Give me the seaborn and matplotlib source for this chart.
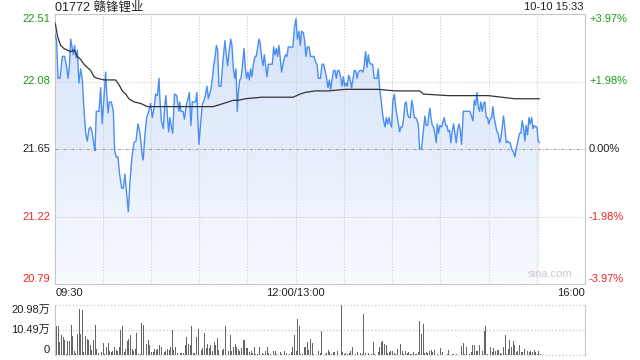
import numpy as np
import matplotlib
matplotlib.use("Agg")
import matplotlib.pyplot as plt
import seaborn as sns
from matplotlib.colors import LinearSegmentedColormap

# ---------------- data ----------------
TITLE = "01772 赣锋锂业"
STAMP = "10-10 15:33"
PREV_CLOSE = 21.65
PRICE_TICKS = [22.51, 22.08, 21.65, 21.22, 20.79]
PCT_LABELS = ["+3.97%", "+1.98%", "0.00%", "-1.98%", "-3.97%"]
TIME_LABELS = ["09:30", "12:00/13:00", "16:00"]
SESSION_MINUTES = 330
VOL_TICKS = [20.98, 10.49, 0]
VOL_LABELS = ["20.98万", "10.49万", "0"]

# minutes since 09:30 (lunch break removed) and last price
SEG1_MIN = [0, 1.3, 2.2, 3.4, 4.9, 6.3, 7.6, 8.4, 9.2, 10.1, 10.9, 11.7, 12.5, 13.4, 14.2, 15.2, 16.3, 17.3, 18.4, 19.4,
            20.4, 21.5, 22.5, 23.5, 24.6, 25.2, 26.0, 27.7, 28.7, 29.7, 30.8, 31.8, 32.4, 33.3, 34.1, 35.3, 36.6, 37.4, 38.3, 39.5,
            40.5, 41.8, 42.8, 43.8, 44.9, 45.9, 47.0, 48.2, 49.4, 50.7, 51.9, 53.2, 54.4, 55.2, 56.1, 57.3, 58.6, 59.8, 60.8, 61.9,
            62.9, 64.0, 65.0, 65.6, 66.5, 67.7, 68.5, 69.3, 70.2, 71.0, 71.8, 72.7, 73.5, 74.7, 76.0, 77.4]
SEG1_PRICE = [22.39, 22.34, 22.10, 22.10, 22.24, 22.24, 22.17, 22.10, 22.17, 22.35, 22.30, 22.25, 22.31, 22.23, 22.28, 22.07, 22.16, 22.09, 21.89, 21.75,
              21.70, 21.78, 21.79, 21.75, 21.67, 21.64, 21.89, 21.89, 22.04, 21.81, 21.98, 22.14, 22.02, 21.88, 21.95, 21.95, 21.89, 21.64, 21.60, 21.60,
              21.49, 21.40, 21.40, 21.49, 21.36, 21.25, 21.45, 21.60, 21.69, 21.70, 21.81, 21.75, 21.62, 21.58, 21.72, 21.85, 21.89, 21.94, 21.85, 21.91,
              22.00, 21.99, 22.10, 21.96, 21.83, 21.78, 21.92, 21.99, 21.87, 21.76, 21.85, 21.79, 21.75, 22.00, 21.99, 21.89]
SEG2_MIN = [77.9, 78.7, 80.0, 80.8, 82.0, 82.8, 83.9, 84.9, 85.7, 87.0, 87.8, 88.6, 89.3, 89.9, 90.7, 92.0, 92.8, 93.8, 94.9, 95.7,
            96.5, 97.3, 98.2, 99.0, 99.8, 100.7, 101.5, 102.3, 103.6, 104.6, 105.4, 106.0, 106.9, 107.7, 108.7, 109.6, 110.4, 111.2, 112.1, 112.9,
            113.7, 114.3, 115.2, 116.0, 117.0, 117.9, 118.7, 119.5, 120.3, 121.2, 122.0, 122.8, 123.7, 124.7, 125.5, 126.4, 127.2, 128.0, 128.9, 129.7,
            130.5, 131.3, 132.2, 133.0, 134.2, 135.5, 136.3, 137.1, 138.0, 138.8, 139.6, 140.5, 141.3, 142.1, 143.0, 143.8, 144.6, 145.4, 147.1, 148.3,
            149.2]
SEG2_PRICE = [21.95, 21.89, 21.89, 21.84, 21.93, 21.96, 22.01, 21.80, 21.95, 21.95, 21.95, 22.01, 21.81, 21.68, 21.79, 21.94, 21.95, 21.99, 22.05, 21.97,
              22.00, 22.03, 22.10, 22.18, 22.23, 22.31, 22.28, 22.05, 22.05, 22.19, 22.28, 22.34, 22.25, 22.18, 22.28, 22.35, 22.31, 22.17, 22.10, 22.16,
              21.89, 22.00, 22.09, 22.10, 22.19, 22.29, 22.17, 22.10, 22.14, 22.09, 22.16, 22.11, 22.19, 22.24, 22.24, 22.30, 22.35, 22.32, 22.23, 22.18,
              22.25, 22.18, 22.11, 22.19, 22.19, 22.19, 22.30, 22.25, 22.29, 22.24, 22.31, 22.22, 22.14, 22.19, 22.23, 22.25, 22.24, 22.30, 22.30, 22.30,
              22.42]
SEG3_MIN = [150.2, 151.1, 152.1, 152.9, 153.7, 154.8, 155.6, 156.4, 157.3, 158.3, 159.3, 160.4, 161.4, 162.5, 163.3, 164.1, 165.4, 166.4, 167.4, 168.5,
            169.3, 170.1, 171.0, 171.8, 172.8, 173.6, 174.5, 175.3, 176.1, 177.0, 178.0, 178.8, 179.7, 180.5, 181.3, 182.1, 183.0, 183.8, 184.8, 185.7,
            186.5, 187.3, 188.2, 189.0, 190.0, 191.1, 191.9, 192.5, 193.5, 194.4, 195.2, 196.0, 196.9, 197.9, 198.9, 199.8, 200.6, 201.4, 202.3, 203.1,
            203.9, 204.7, 205.6, 206.4, 207.2, 208.1, 208.9, 209.7, 210.5, 211.4, 212.2, 213.0, 213.9, 214.7, 215.5, 216.4, 217.2, 218.0, 218.8, 219.7,
            220.5, 221.3, 222.2, 223.0, 223.8, 224.6]
SEG3_PRICE = [22.48, 22.35, 22.40, 22.31, 22.40, 22.39, 22.34, 22.24, 22.30, 22.30, 22.24, 22.24, 22.24, 22.20, 22.19, 22.10, 22.10, 22.19, 22.19, 22.14,
              22.10, 22.04, 22.09, 22.03, 22.10, 22.15, 22.15, 22.10, 22.15, 22.15, 22.11, 22.05, 22.11, 22.05, 22.07, 22.05, 22.12, 22.10, 22.04, 22.10,
              22.15, 22.15, 22.10, 22.14, 22.15, 22.15, 22.14, 22.17, 22.27, 22.17, 22.25, 22.20, 22.19, 22.19, 22.10, 22.10, 22.10, 22.16, 22.03, 21.97,
              21.89, 21.83, 21.79, 21.85, 21.81, 21.85, 21.81, 21.79, 21.96, 22.00, 21.92, 21.87, 21.81, 21.76, 21.79, 21.79, 21.85, 21.94, 21.95, 21.87,
              21.85, 21.85, 21.96, 21.92, 21.85, 21.85]
SEG4_MIN = [225.2, 226.3, 227.1, 228.3, 229.4, 230.4, 231.2, 232.1, 232.9, 233.5, 234.2, 235.0, 235.8, 236.6, 237.5, 238.1, 238.9, 239.7, 240.8, 241.8,
            242.4, 243.3, 244.1, 244.9, 245.8, 246.6, 247.4, 248.2, 249.1, 249.9, 250.7, 251.6, 252.4, 253.2, 254.3, 256.3, 258.4, 259.4, 260.3, 261.1,
            261.9, 262.8, 263.6, 264.4, 265.2, 266.1, 266.9, 267.7, 268.6, 269.4, 270.2, 271.0, 271.9, 272.7, 273.5, 274.4, 275.2, 276.0, 276.9, 277.7,
            278.5, 279.3, 280.2, 281.0, 281.8, 282.7, 283.5, 284.3, 285.6, 286.4, 287.2, 288.5, 289.3, 290.1, 290.9, 291.8, 292.6, 293.4, 294.3, 295.1,
            295.9, 296.8, 297.6, 298.4, 299.2, 300.1, 300.9, 301.7]
SEG4_PRICE = [21.84, 21.81, 21.65, 21.65, 21.76, 21.86, 21.80, 21.80, 21.87, 21.91, 21.85, 21.80, 21.79, 21.75, 21.69, 21.81, 21.75, 21.80, 21.79, 21.83,
              21.85, 21.80, 21.80, 21.76, 21.77, 21.69, 21.76, 21.81, 21.75, 21.69, 21.77, 21.81, 21.77, 21.68, 21.89, 21.89, 21.89, 21.86, 21.83, 21.96,
              21.93, 22.01, 21.92, 21.89, 21.95, 21.89, 21.94, 21.95, 21.85, 21.85, 21.81, 21.84, 21.85, 21.92, 21.85, 21.80, 21.76, 21.75, 21.69, 21.72,
              21.79, 21.86, 21.78, 21.69, 21.70, 21.69, 21.69, 21.65, 21.63, 21.60, 21.65, 21.71, 21.75, 21.75, 21.83, 21.78, 21.70, 21.80, 21.74, 21.85,
              21.81, 21.85, 21.78, 21.80, 21.79, 21.79, 21.70, 21.69]

# average price line
AVG_MIN = [0, 0.7, 1.8, 3.8, 5.9, 8.0, 10.1, 12.1, 14.2, 16.3, 18.3, 20.4, 22.5, 24.6, 26.6, 30.8, 34.9, 38.0, 40.1, 42.2,
           44.3, 46.3, 49.4, 53.6, 55.7, 57.7, 77.4, 95.7, 98.8, 101.9, 105.0, 108.1, 111.2, 114.3, 118.5, 128.9, 148.5, 150.6, 152.7, 155.8,
           162.0, 170.3, 180.7, 201.4, 211.8, 227.3, 229.5, 244.9, 261.5, 269.8, 278.1, 286.4, 301.7]
AVG_PRICE = [22.46, 22.44, 22.37, 22.31, 22.29, 22.28, 22.27, 22.28, 22.24, 22.22, 22.19, 22.17, 22.15, 22.11, 22.10, 22.09, 22.09, 22.09, 22.06, 22.02,
             22.00, 21.97, 21.95, 21.94, 21.93, 21.92, 21.92, 21.92, 21.92, 21.93, 21.94, 21.95, 21.96, 21.96, 21.97, 21.98, 21.98, 21.99, 22.00, 22.01,
             22.02, 22.02, 22.03, 22.03, 22.02, 22.02, 22.00, 21.99, 21.99, 21.99, 21.98, 21.97, 21.97]

# per-minute volume (万股)
VOL_1 = [18.6, 12.1, 12.1, 5.4, 8.2, 7.5, 6.1, 0.4, 5.8, 5.8, 12.5, 7.8, 1.8, 0.7, 8.9, 19.3, 8.9, 18.9, 1.1, 7.8,
         6.8, 6.4, 4.0, 2.1, 6.1, 12.5, 2.6, 0.7, 3.3, 1.4, 5.1, 0.4, 3.3, 5.1, 1.8, 1.1, 1.8, 3.3, 2.1, 1.6,
         3.3, 10.6, 12.1, 1.1, 2.6, 5.8, 6.8, 8.2, 2.6, 1.6, 2.6, 9.2, 0.4, 0.4, 13.5, 12.5, 5.4, 4.7, 6.1, 4.0,
         1.1, 1.1, 2.6, 2.1, 2.6, 4.0, 3.3, 0.1, 1.1, 1.6, 2.6, 2.1, 3.3, 10.6, 2.1, 3.3, 0.7]
VOL_2 = [0.1, 0.9, 0.9, 0.9, 4.4, 7.5, 4.7, 4.0, 12.1, 0.9, 0.9, 7.5, 10.8, 0.1, 2.1, 3.0, 9.2, 2.8, 4.7, 2.8,
         4.3, 1.8, 5.4, 4.4, 7.1, 2.1, 0.1, 2.1, 2.6, 12.1, 6.1, 1.8, 8.6, 1.6, 3.5, 4.7, 3.5, 2.6, 1.6, 2.8,
         6.1, 6.4, 2.8, 2.8, 1.1, 1.6, 0.7, 3.5, 0.4, 0.4, 3.3, 0.1, 0.7, 0.4, 1.6, 3.3, 0.7, 0.4, 0.1, 1.6,
         1.8, 0.4, 0.1, 1.1, 0.4, 0.1, 1.8, 0.9, 0.1, 0.4, 1.1, 3.5, 8.2, 1.8, 15.0, 12.1]
VOL_3 = [0.4, 0.4, 3.3, 3.3, 5.4, 2.1, 6.9, 5.0, 0.4, 0.1, 2.1, 1.6, 0.7, 9.9, 0.1, 0.4, 0.7, 2.1, 1.1, 0.4,
         1.4, 1.1, 0.1, 1.8, 0.1, 20.98, 1.1, 0.4, 0.7, 0.4, 0.7, 1.8, 3.5, 5.4, 0.4, 1.1, 0.1, 0.9, 0.4, 17.2,
         0.7, 0.1, 0.7, 0.1, 0.4, 5.4, 0.4, 0.1, 1.1, 3.5, 5.4, 5.7, 4.7, 4.0, 0.7, 1.1, 1.8, 1.6, 0.9, 0.4,
         2.6, 0.7, 4.7, 1.8, 0.4, 1.6, 0.7, 1.1, 0.4, 0.4, 1.1, 0.4, 0.4, 1.1, 14.2, 8.9, 12.9]
VOL_4 = [0.7, 1.4, 0.9, 1.8, 2.3, 1.1, 2.1, 0.1, 0.4, 0.1, 3.0, 1.1, 0.1, 0.1, 0.4, 2.1, 0.1, 0.4, 0.4, 0.1,
         0.4, 0.1, 0.1, 3.8, 5.2, 0.4, 3.5, 0.1, 0.4, 1.1, 4.0, 4.0, 1.8, 1.8, 4.3, 8.2, 1.8, 10.1, 12.1, 0.4,
         0.1, 3.5, 1.1, 3.0, 1.8, 2.1, 2.1, 0.7, 0.4, 3.5, 8.6, 0.4, 2.6, 6.1, 3.3, 5.8, 4.0, 1.1, 1.8, 4.0,
         1.1, 1.1, 2.6, 1.4, 1.8, 1.1, 1.8, 1.1, 2.3, 1.1, 0.4, 1.8, 0.4]

price_min = SEG1_MIN + SEG2_MIN + SEG3_MIN + SEG4_MIN
price = SEG1_PRICE + SEG2_PRICE + SEG3_PRICE + SEG4_PRICE
volume = VOL_1 + VOL_2 + VOL_3 + VOL_4
vol_min = np.arange(len(volume))

# ---------------- style ----------------
sns.set_style("white")
plt.rcParams["font.family"] = ["Liberation Sans", "Noto Sans CJK SC", "DejaVu Sans"]

GREEN = "#1a9e1a"
RED = "#f02525"
GRID = "#cfcfcf"
SPINE = "#c8c8c8"
FS = 8

W, H = 640, 360
fig = plt.figure(figsize=(6.4, 3.6), dpi=100)
L, R = 54.5, 585
ax = fig.add_axes([L / W, 1 - 284 / H, (R - L) / W, 270 / H])
axv = fig.add_axes([L / W, 1 - 355 / H, (R - L) / W, 50 / H])

ymin, ymax = PRICE_TICKS[-1], PRICE_TICKS[0]

# gradient area under the price line
cmap = LinearSegmentedColormap.from_list("area", ["#f8faff", "#d4e2f9"])
grad = np.linspace(1, 0, 256).reshape(-1, 1)
im = ax.imshow(grad, extent=[0, SESSION_MINUTES, ymin, ymax], aspect="auto",
               cmap=cmap, vmin=0, vmax=1, origin="upper", zorder=1)
poly = ax.fill_between(price_min, price, ymin, color="none", lw=0)
im.set_clip_path(poly.get_paths()[0], transform=ax.transData)

# grid
for m in range(30, SESSION_MINUTES, 30):
    ax.axvline(m, color=GRID, lw=0.8, ls=(0, (1, 1.5)), zorder=2)
    axv.axvline(m, color="none")
for yv in PRICE_TICKS[1:-1]:
    if yv == PREV_CLOSE:
        ax.axhline(yv, color="#a8a8a8", lw=0.8, ls=(0, (3, 1.5, 1, 1.5)), zorder=2)
    else:
        ax.axhline(yv, color=GRID, lw=0.8, ls=(0, (1, 1.5)), zorder=2)

# lines
sns.lineplot(x=price_min, y=price, ax=ax, color="#4c8df0", lw=1.0, estimator=None, sort=False, zorder=4)
sns.lineplot(x=AVG_MIN, y=AVG_PRICE, ax=ax, color="#333333", lw=0.9, estimator=None, sort=False, zorder=5)

ax.set_xlim(0, SESSION_MINUTES)
ax.set_ylim(ymin, ymax)
ax.set_xticks([])
ax.set_yticks([])
ax.set_xlabel("")
ax.set_ylabel("")
for s in ax.spines.values():
    s.set_color(SPINE)
    s.set_linewidth(0.8)

# price labels
ytr = ax.get_yaxis_transform()
n = len(PRICE_TICKS)
for i, (pv, pl) in enumerate(zip(PRICE_TICKS, PCT_LABELS)):
    col = GREEN if pv > PREV_CLOSE else (RED if pv < PREV_CLOSE else "#222222")
    va = "top" if i == 0 else ("bottom" if i == n - 1 else "center")
    ax.text(-0.0085, pv, f"{pv:.2f}", transform=ytr, ha="right", va=va, color=col, fontsize=FS)
    ax.text(1.0075, pv, pl, transform=ytr, ha="left", va=va, color=col, fontsize=FS)

ax.text(0.977, 0.018, "sina.com", transform=ax.transAxes, ha="right", va="bottom",
        color="#c9c9c9", fontsize=FS)

# volume
axv.bar(vol_min, volume, width=0.6, align="edge", color="#666666", lw=0, zorder=3)
axv.set_xlim(0, SESSION_MINUTES)
axv.set_ylim(0, VOL_TICKS[0])
for vv in VOL_TICKS:
    axv.axhline(vv, color=GRID, lw=1.0, ls=(0, (1, 1.5)), zorder=1, clip_on=False)
axv.set_xticks([])
axv.set_yticks([])
axv.spines["top"].set_visible(False)
axv.spines["bottom"].set_visible(False)
for k in ("left", "right"):
    axv.spines[k].set_color(SPINE)
    axv.spines[k].set_linewidth(0.8)
vtr = axv.get_yaxis_transform()
for i, (vv, vl) in enumerate(zip(VOL_TICKS, VOL_LABELS)):
    va = "top" if i == 0 else ("bottom" if i == len(VOL_TICKS) - 1 else "center")
    axv.text(-0.0085, vv, vl, transform=vtr, ha="right", va=va, color="#222222", fontsize=FS)

# time labels
ty = 1 - 293 / H
fig.text(L / W + 0.001, ty, TIME_LABELS[0], ha="left", va="center", fontsize=FS, color="#222222")
fig.text(295.5 / W, ty, TIME_LABELS[1], ha="center", va="center", fontsize=FS, color="#222222")
fig.text(R / W, ty, TIME_LABELS[2], ha="right", va="center", fontsize=FS, color="#222222")

# header
fig.text(55 / W, 1 - 7.5 / H, TITLE, ha="left", va="center", fontsize=9, color="#222222")
fig.text(583 / W, 1 - 7.5 / H, STAMP, ha="right", va="center", fontsize=FS, color="#222222")

fig.savefig("out.png", dpi=100)
